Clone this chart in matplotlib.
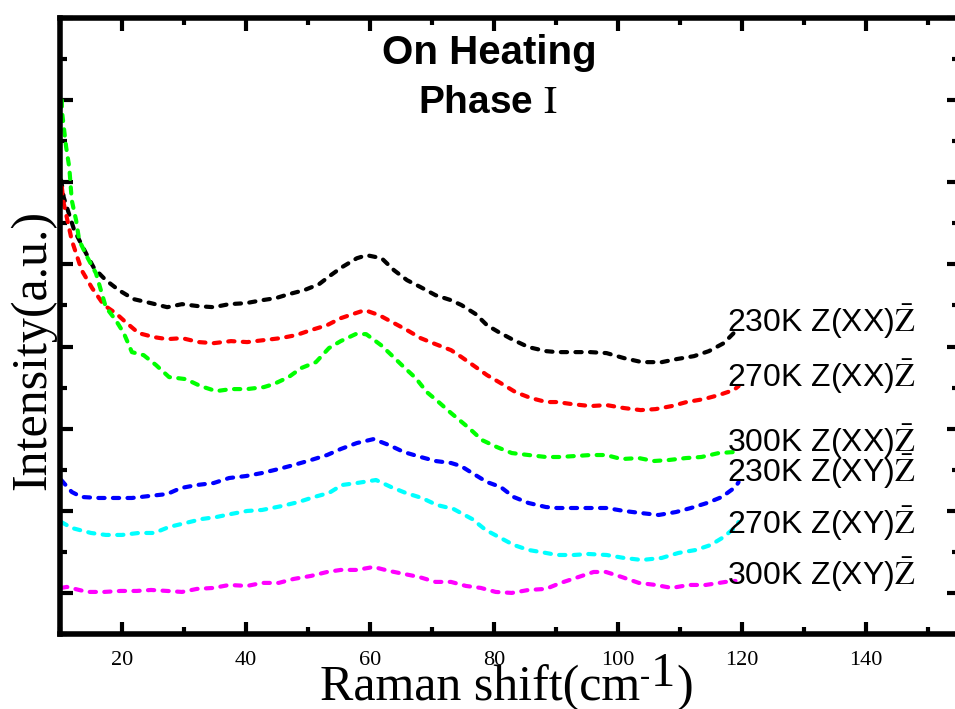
import matplotlib
matplotlib.use('Agg')
import matplotlib.pyplot as plt
from matplotlib.ticker import MultipleLocator

plt.rcParams['font.family'] = ['Liberation Serif', 'DejaVu Serif']
plt.rcParams['mathtext.fontset'] = 'stix'

# Raman spectra, offset vertically (a.u.)
x_230xx = [10.2, 10.6, 12.3, 14.2, 15.5, 17.4, 19.5, 21.9, 24.7, 27.3, 29.7, 32.4, 34.8, 37.3, 40.0,
           42.6, 44.8, 46.9, 49.4, 51.8, 53.7, 55.5, 57.9, 59.5, 61.9, 63.9, 66.0, 68.2, 70.6, 73.1,
           74.8, 77.1, 78.9, 80.8, 83.2, 85.6, 88.4, 90.2, 92.9, 95.6, 98.2, 101.0, 103.9, 107.1,
           109.5, 112.3, 114.7, 117.1, 119.5]
y_230xx = [5024, 4818, 4416, 4136, 3954, 3808, 3686, 3577, 3528, 3479, 3516, 3491, 3479, 3516, 3528,
           3564, 3589, 3637, 3686, 3759, 3869, 3966, 4075, 4112, 4075, 3929, 3808, 3723, 3625, 3564,
           3504, 3394, 3260, 3175, 3078, 2993, 2944, 2932, 2932, 2932, 2920, 2859, 2810, 2810,
           2847, 2883, 2944, 3041, 3224]

x_270xx = [10.3, 10.6, 11.9, 13.5, 15.2, 17.1, 19.0, 20.6, 22.7, 25.2, 27.3, 29.7, 32.4, 34.8, 37.6,
           40.2, 42.9, 45.6, 48.1, 50.5, 53.1, 55.3, 57.7, 59.2, 61.5, 63.9, 66.0, 68.2, 70.6, 73.1,
           74.8, 77.1, 78.9, 81.1, 83.5, 86.0, 88.5, 90.2, 92.6, 95.6, 98.2, 101.0, 103.7, 106.1,
           108.7, 111.1, 113.9, 116.3, 118.7, 119.5]
y_270xx = [4939, 4745, 4294, 3929, 3710, 3504, 3406, 3297, 3163, 3114, 3090, 3102, 3054, 3041, 3066,
           3054, 3078, 3102, 3139, 3200, 3260, 3345, 3406, 3443, 3382, 3285, 3200, 3102, 3029, 2956,
           2871, 2749, 2652, 2555, 2445, 2372, 2324, 2324, 2299, 2275, 2287, 2251, 2226, 2238,
           2275, 2324, 2360, 2409, 2470, 2518]

x_300xx = [10.3, 10.3, 11.0, 11.5, 11.9, 12.6, 13.1, 14.4, 15.8, 16.6, 17.4, 19.0, 20.3, 21.6, 23.5,
           25.5, 27.6, 30.3, 32.7, 35.2, 37.6, 40.2, 42.9, 44.5, 46.9, 48.9, 51.3, 53.4, 55.3, 57.7,
           59.4, 61.8, 63.5, 65.5, 67.4, 69.2, 71.1, 73.1, 76.0, 78.1, 80.5, 82.9, 85.6, 88.4, 90.5,
           93.2, 95.6, 98.1, 100.6, 103.4, 105.8, 108.2, 111.0, 113.5, 116.3, 118.7]
y_300xx = [5998, 5876, 5426, 5182, 4781, 4538, 4294, 4088, 3893, 3686, 3479, 3321, 3163, 2932, 2895,
           2774, 2628, 2603, 2518, 2457, 2482, 2482, 2506, 2543, 2628, 2737, 2810, 2981, 3066, 3151,
           3151, 3017, 2895, 2749, 2616, 2445, 2324, 2190, 2007, 1861, 1776, 1703, 1679, 1655, 1655,
           1667, 1679, 1679, 1630, 1642, 1606, 1618, 1642, 1655, 1703, 1715]

x_230xy = [10.2, 11.9, 13.5, 16.3, 19.0, 21.6, 24.4, 27.3, 29.5, 32.1, 34.8, 37.3, 40.0, 42.6, 45.3,
           47.7, 50.5, 53.1, 55.3, 57.9, 60.6, 63.1, 65.5, 68.2, 70.6, 73.1, 74.7, 76.5, 78.9, 81.1,
           83.2, 85.6, 88.4, 90.2, 92.9, 95.6, 98.2, 101.0, 103.7, 106.6, 109.4, 111.8, 114.4,
           116.8, 119.0, 119.5]
y_230xy = [1375, 1229, 1168, 1156, 1156, 1156, 1180, 1204, 1277, 1314, 1338, 1399, 1423, 1460, 1509,
           1557, 1618, 1679, 1752, 1825, 1873, 1800, 1715, 1655, 1606, 1582, 1545, 1460, 1350, 1290,
           1168, 1095, 1046, 1034, 1034, 1034, 1034, 998, 973, 949, 985, 1034, 1095,
           1168, 1290, 1350]

x_270xy = [10.2, 11.9, 15.0, 17.4, 20.0, 22.7, 25.2, 27.6, 30.3, 32.9, 35.3, 37.6, 40.2, 42.6, 45.8,
           48.5, 51.0, 53.4, 55.5, 57.9, 61.0, 63.4, 65.8, 68.4, 70.8, 73.5, 74.7, 76.5, 78.7, 81.1,
           83.2, 85.6, 88.4, 90.2, 92.9, 95.3, 98.2, 101.0, 103.9, 107.1, 109.8, 112.6, 115.0,
           117.1, 119.0, 119.5]
y_270xy = [864, 791, 730, 706, 706, 730, 730, 803, 852, 900, 925, 961, 998, 1010, 1058,
           1107, 1168, 1217, 1314, 1338, 1375, 1290, 1217, 1156, 1071, 1022, 973, 900, 766, 669,
           584, 523, 487, 462, 462, 474, 462, 426, 401, 426, 487, 523, 584,
           681, 803, 864]

x_300xy = [10.2, 11.1, 14.4, 17.1, 19.8, 22.4, 24.7, 27.3, 29.7, 32.1, 34.8, 37.3, 40.2, 42.6, 45.3,
           47.7, 50.5, 53.1, 55.3, 57.9, 60.6, 63.1, 65.5, 67.9, 70.6, 73.1, 75.5, 77.9, 80.3, 82.9,
           85.6, 88.4, 90.8, 93.2, 96.1, 98.1, 100.6, 103.4, 106.1, 108.7, 111.5, 114.2, 117.4, 119.0]
y_300xy = [61, 73, 12, 12, 24, 24, 36, 24, 12, 49, 61, 97, 85, 122, 122,
           170, 207, 255, 280, 280, 316, 268, 231, 195, 134, 134, 85, 61, 12, 0,
           36, 49, 122, 182, 255, 255, 195, 122, 97, 61, 97, 97, 134, 146]

series = [
    (x_230xx, y_230xx, 'black', r'230K Z(XX)$\bar{\mathrm{Z}}$', 3175),
    (x_270xx, y_270xx, '#ff0000', r'270K Z(XX)$\bar{\mathrm{Z}}$', 2506),
    (x_300xx, y_300xx, '#00ff00', r'300K Z(XX)$\bar{\mathrm{Z}}$', 1715),
    (x_230xy, y_230xy, '#0000ff', r'230K Z(XY)$\bar{\mathrm{Z}}$', 1350),
    (x_270xy, y_270xy, '#00ffff', r'270K Z(XY)$\bar{\mathrm{Z}}$', 718),
    (x_300xy, y_300xy, '#ff00ff', r'300K Z(XY)$\bar{\mathrm{Z}}$', 97),
]

fig = plt.figure(figsize=(9.55, 7.09), dpi=100)
ax = fig.add_axes([0.0628, 0.1058, 0.941, 0.8688])

for xs, ys, c, lab, ly in series:
    ax.plot(xs, ys, color=c, lw=3, linestyle=(0, (1.5, 2.0)),
            dash_capstyle='round', solid_capstyle='round')
    ax.text(117.6, ly, lab, color='black', fontsize=23, family='Liberation Sans',
            ha='left', va='baseline')

ax.set_xlim(10, 155)
ax.set_ylim(-500, 7000)
ax.xaxis.set_major_locator(MultipleLocator(20))
ax.xaxis.set_minor_locator(MultipleLocator(10))
ax.yaxis.set_major_locator(MultipleLocator(1000))
ax.yaxis.set_minor_locator(MultipleLocator(500))
ax.tick_params(which='both', direction='in', top=True, right=True, width=3)
ax.tick_params(which='major', length=9)
ax.tick_params(which='minor', length=5)
ax.tick_params(axis='x', labelsize=16, pad=12)
ax.tick_params(axis='y', labelleft=False)
for s in ax.spines.values():
    s.set_linewidth(4)

# x label built in pieces so the -1 exponent stays nearly full size
t1 = fig.text(0.335, 0.012, 'Raman shift(cm', fontsize=36, ha='left', va='baseline')
t2 = ax.annotate('-', xy=(1, 0), xycoords=t1, xytext=(0, 19), textcoords='offset pixels',
                 fontsize=22, ha='left', va='bottom', annotation_clip=False)
t3 = ax.annotate('1', xy=(1, 0), xycoords=t2, xytext=(1, -4), textcoords='offset pixels',
                 fontsize=35, ha='left', va='bottom', annotation_clip=False)
t4 = ax.annotate(')', xy=(1, 0), xycoords=t3, xytext=(1, -15), textcoords='offset pixels',
                 fontsize=36, ha='left', va='bottom', annotation_clip=False)

ax.set_ylabel('Intensity(a.u.)', fontsize=36)
ax.yaxis.set_label_coords(-0.004, 0.461)

ax.text(0.478, 0.943, 'On Heating', transform=ax.transAxes, fontsize=29,
        fontweight='bold', family='Liberation Sans', ha='center', va='center')
ax.text(0.476, 0.862, r'Phase $\mathrm{I}$', transform=ax.transAxes, fontsize=28,
        fontweight='bold', family='Liberation Sans', ha='center', va='center')

fig.savefig('out.png', dpi=100)
